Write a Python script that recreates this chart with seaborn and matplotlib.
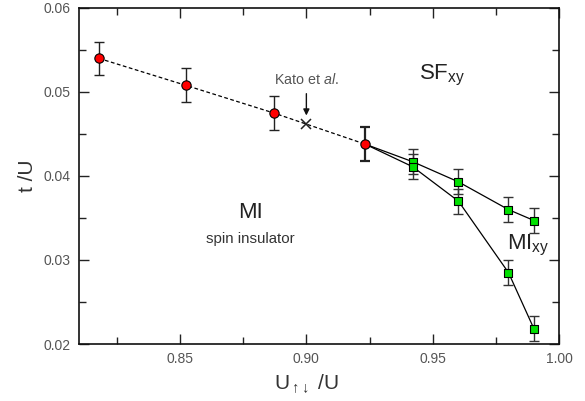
import matplotlib
matplotlib.use("Agg")
import matplotlib.pyplot as plt
import seaborn as sns
import pandas as pd
from matplotlib.ticker import MultipleLocator, FormatStrFormatter

# Data
red_x = [0.8179, 0.8522, 0.8871, 0.9232]
red_y = [0.0540, 0.0508, 0.0475, 0.0438]
red_err = [0.0020, 0.0020, 0.0020, 0.0020]

upper_x = [0.9232, 0.9421, 0.9602, 0.9800, 0.9901]
upper_y = [0.0438, 0.0417, 0.0393, 0.0360, 0.0347]
upper_err = [0.0, 0.0015, 0.0015, 0.0015, 0.0015]

lower_x = [0.9232, 0.9421, 0.9602, 0.9800, 0.9901]
lower_y = [0.0438, 0.0411, 0.0370, 0.0285, 0.0218]
lower_err = [0.0, 0.0015, 0.0015, 0.0015, 0.0015]

kato_x = [0.900]
kato_y = [0.04615]

sns.set_theme(style="ticks")
plt.rcParams['font.family'] = ['Liberation Sans', 'DejaVu Sans']
plt.rcParams['mathtext.fontset'] = 'custom'
plt.rcParams['mathtext.rm'] = 'Liberation Sans'
plt.rcParams['mathtext.it'] = 'Liberation Sans:italic'

fig = plt.figure(figsize=(5.85, 4.01), dpi=100)
ax = fig.add_axes([79/585, 1-344/401, 480/585, 336/401])

df_red = pd.DataFrame({'x': red_x, 'y': red_y})
df_up = pd.DataFrame({'x': upper_x, 'y': upper_y})
df_lo = pd.DataFrame({'x': lower_x, 'y': lower_y})

sns.lineplot(data=df_red, x='x', y='y', ax=ax, color='black', lw=0.9,
             linestyle=(0, (3, 2)), sort=False, zorder=2)
sns.lineplot(data=df_up, x='x', y='y', ax=ax, color='black', lw=0.9, sort=False, zorder=2)
sns.lineplot(data=df_lo, x='x', y='y', ax=ax, color='black', lw=0.9, sort=False, zorder=2)

cs = 3.3
ax.errorbar(red_x[:3], red_y[:3], yerr=red_err[:3], fmt='none', ecolor='#222222',
            elinewidth=1.0, capsize=cs, capthick=1.0, zorder=3)
ax.errorbar(red_x[3:], red_y[3:], yerr=red_err[3:], fmt='none', ecolor='#222222',
            elinewidth=1.6, capsize=cs, capthick=1.6, zorder=3)
ax.errorbar(upper_x[1:], upper_y[1:], yerr=upper_err[1:], fmt='none', ecolor='#333333',
            elinewidth=1.0, capsize=cs, capthick=1.0, zorder=3)
ax.errorbar(lower_x[1:], lower_y[1:], yerr=lower_err[1:], fmt='none', ecolor='#333333',
            elinewidth=1.0, capsize=cs, capthick=1.0, zorder=3)

sns.scatterplot(data=df_up.iloc[1:], x='x', y='y', ax=ax, marker='s', s=28,
                color='#00e000', edgecolor='black', linewidth=0.8, zorder=4)
sns.scatterplot(data=df_lo.iloc[1:], x='x', y='y', ax=ax, marker='s', s=28,
                color='#00e000', edgecolor='black', linewidth=0.8, zorder=4)
sns.scatterplot(data=df_red, x='x', y='y', ax=ax, marker='o', s=45,
                color='#ff0000', edgecolor='black', linewidth=0.8, zorder=5)
ax.plot(kato_x, kato_y, marker='x', color='#222222', ms=7, mew=1.1, ls='none', zorder=5)

ax.set_xlim(0.81, 1.00)
ax.set_ylim(0.02, 0.06)
ax.xaxis.set_major_locator(MultipleLocator(0.05))
ax.xaxis.set_minor_locator(MultipleLocator(0.025))
ax.yaxis.set_major_locator(MultipleLocator(0.01))
ax.yaxis.set_minor_locator(MultipleLocator(0.005))
ax.xaxis.set_major_formatter(FormatStrFormatter('%.2f'))
ax.yaxis.set_major_formatter(FormatStrFormatter('%.2f'))
ax.tick_params(which='both', direction='in', top=True, right=True, colors='#222222',
               labelcolor='#555555', labelsize=10, width=1.0)
ax.tick_params(which='major', length=7, pad=6)
ax.tick_params(which='minor', length=5)
for s in ax.spines.values():
    s.set_linewidth(1.2)
    s.set_color('#111111')

ax.set_xlabel('')
ax.set_ylabel('t /U', fontsize=15, color='#333333', labelpad=5)
ax.text(0.9, -0.135, r'U$_{\uparrow\!\downarrow}$ /U', transform=ax.get_xaxis_transform(),
        fontsize=15, color='#333333', ha='center', va='baseline')

ax.text(0.9001, 0.05143, r'Kato et $\it{al.}$', fontsize=10.3, color='#555555',
        ha='center', va='center')
ax.annotate('', xy=(0.9, 0.0472), xytext=(0.9, 0.0498),
            arrowprops=dict(arrowstyle='-|>', color='#111111', lw=1.0,
                            mutation_scale=9, shrinkA=0, shrinkB=0))
ax.text(0.9446, 0.0520, r'SF$_{\rm xy}$', fontsize=16, color='#222222', ha='left', va='center')
ax.text(0.878, 0.0356, 'MI', fontsize=16, color='#222222', ha='center', va='center')
ax.text(0.8777, 0.0325, 'spin insulator', fontsize=10.8, color='#333333', ha='center', va='center')
ax.text(0.9794, 0.0317, r'MI$_{\rm xy}$', fontsize=16, color='#222222', ha='left', va='center')

fig.savefig('out.png', dpi=100)
